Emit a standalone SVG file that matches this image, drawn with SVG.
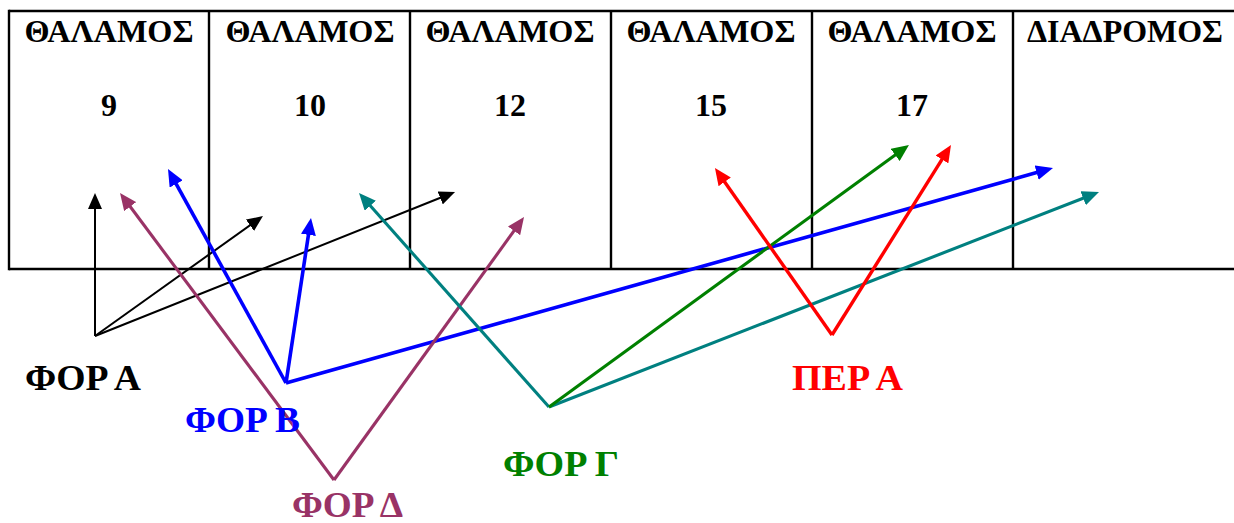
<svg xmlns="http://www.w3.org/2000/svg" width="1234" height="523" viewBox="0 0 1234 523">
<style>
.hd{font-family:"Liberation Serif","Times New Roman",serif;font-weight:bold;font-size:32px;text-anchor:middle;fill:#000}
.lb{font-family:"Liberation Serif","Times New Roman",serif;font-weight:bold;font-size:36px}
.tbl{stroke:#000;stroke-width:2.4;fill:none}
.c line{fill:none;stroke-linecap:butt}
.k{stroke:#000;stroke-width:2}
.b{stroke:#0000FF;stroke-width:3.6}
.p{stroke:#993366;stroke-width:3.1}
.t{stroke:#008080;stroke-width:3.1}
.g{stroke:#008000;stroke-width:3.1}
.r{stroke:#FF0000;stroke-width:3.4}
</style>
<defs>
<marker id="mk" markerUnits="userSpaceOnUse" markerWidth="16" markerHeight="14" refX="11" refY="7" orient="auto"><path d="M0,0 L16,7 L0,14 z" fill="#000"/></marker>
<marker id="mb" markerUnits="userSpaceOnUse" markerWidth="17" markerHeight="15" refX="11" refY="7.5" orient="auto"><path d="M0,0 L17,7.5 L0,15 z" fill="#0000FF"/></marker>
<marker id="mp" markerUnits="userSpaceOnUse" markerWidth="17" markerHeight="15" refX="11" refY="7.5" orient="auto"><path d="M0,0 L17,7.5 L0,15 z" fill="#993366"/></marker>
<marker id="mt" markerUnits="userSpaceOnUse" markerWidth="17" markerHeight="15" refX="11" refY="7.5" orient="auto"><path d="M0,0 L17,7.5 L0,15 z" fill="#008080"/></marker>
<marker id="mg" markerUnits="userSpaceOnUse" markerWidth="17" markerHeight="15" refX="11" refY="7.5" orient="auto"><path d="M0,0 L17,7.5 L0,15 z" fill="#008000"/></marker>
<marker id="mr" markerUnits="userSpaceOnUse" markerWidth="17" markerHeight="15" refX="11" refY="7.5" orient="auto"><path d="M0,0 L17,7.5 L0,15 z" fill="#FF0000"/></marker>
</defs>
<rect width="1234" height="523" fill="#fff"/>
<g id="table">
<line class="tbl" x1="9" y1="11" x2="1234" y2="11"/>
<line class="tbl" x1="9" y1="269" x2="1234" y2="269"/>
<line class="tbl" x1="9" y1="9.8" x2="9" y2="270.2"/>
<line class="tbl" x1="209" y1="11" x2="209" y2="269"/>
<line class="tbl" x1="410" y1="11" x2="410" y2="269"/>
<line class="tbl" x1="611" y1="11" x2="611" y2="269"/>
<line class="tbl" x1="812" y1="11" x2="812" y2="269"/>
<line class="tbl" x1="1013" y1="11" x2="1013" y2="269"/>
</g>
<g id="room9"><text class="hd" x="109" y="42" textLength="169" lengthAdjust="spacingAndGlyphs">ΘΑΛΑΜΟΣ</text><text class="hd" x="109" y="116">9</text></g>
<g id="room10"><text class="hd" x="310" y="42" textLength="169" lengthAdjust="spacingAndGlyphs">ΘΑΛΑΜΟΣ</text><text class="hd" x="310" y="116">10</text></g>
<g id="room12"><text class="hd" x="510" y="42" textLength="169" lengthAdjust="spacingAndGlyphs">ΘΑΛΑΜΟΣ</text><text class="hd" x="510" y="116">12</text></g>
<g id="room15"><text class="hd" x="711" y="42" textLength="169" lengthAdjust="spacingAndGlyphs">ΘΑΛΑΜΟΣ</text><text class="hd" x="711" y="116">15</text></g>
<g id="room17"><text class="hd" x="912" y="42" textLength="169" lengthAdjust="spacingAndGlyphs">ΘΑΛΑΜΟΣ</text><text class="hd" x="912" y="116">17</text></g>
<g id="corridor"><text class="hd" x="1125" y="42" textLength="196" lengthAdjust="spacingAndGlyphs">ΔΙΑΔΡΟΜΟΣ</text></g>
<g id="connectors" class="c">
<line class="k" x1="95" y1="336" x2="95" y2="198" marker-end="url(#mk)"/>
<line class="k" x1="95" y1="336" x2="258.9" y2="218.9" marker-end="url(#mk)"/>
<line class="k" x1="95" y1="336" x2="450.4" y2="193.8" marker-end="url(#mk)"/>
<line class="b" x1="286" y1="383" x2="170.9" y2="174.3" marker-end="url(#mb)"/>
<line class="b" x1="286" y1="383" x2="310.1" y2="224" marker-end="url(#mb)"/>
<line class="b" x1="286" y1="383" x2="1047.2" y2="169.6" marker-end="url(#mb)"/>
<line class="p" x1="334" y1="480" x2="123.6" y2="197.8" marker-end="url(#mp)"/>
<line class="p" x1="334" y1="480" x2="520.5" y2="221.9" marker-end="url(#mp)"/>
<line class="t" x1="549" y1="407" x2="363" y2="197.5" marker-end="url(#mt)"/>
<line class="t" x1="549" y1="407" x2="1093.4" y2="194.2" marker-end="url(#mt)"/>
<line class="g" x1="549" y1="407" x2="904.1" y2="148.5" marker-end="url(#mg)"/>
<line class="r" x1="832" y1="335" x2="718.4" y2="172.9" marker-end="url(#mr)"/>
<line class="r" x1="832" y1="335" x2="947.8" y2="150.1" marker-end="url(#mr)"/>
</g>
<g id="forA"><text class="lb" x="25" y="390" fill="#000" textLength="116" lengthAdjust="spacingAndGlyphs">ΦΟΡ Α</text></g>
<g id="forB"><text class="lb" x="185" y="432" fill="#0000FF" textLength="115" lengthAdjust="spacingAndGlyphs">ΦΟΡ Β</text></g>
<g id="forG"><text class="lb" x="503" y="476" fill="#008000" textLength="116" lengthAdjust="spacingAndGlyphs">ΦΟΡ Γ</text></g>
<g id="forD"><text class="lb" x="292" y="517" fill="#993366" textLength="111" lengthAdjust="spacingAndGlyphs">ΦΟΡ Δ</text></g>
<g id="perA"><text class="lb" x="792" y="390" fill="#FF0000" textLength="111" lengthAdjust="spacingAndGlyphs">ΠΕΡ Α</text></g>
</svg>
